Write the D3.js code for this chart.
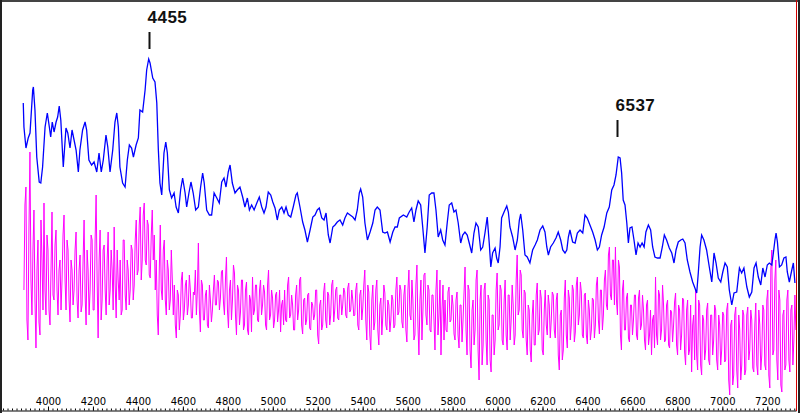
<!DOCTYPE html>
<html><head><meta charset="utf-8">
<script src="https://cdn.jsdelivr.net/npm/d3@7"></script>
<style>html,body{margin:0;padding:0;background:#fff;overflow:hidden}</style>
</head><body>
<svg id="chart" width="800" height="413"></svg>
<script>
// Smoothed spectrum (blue): wavelength (Å) and relative flux
const blueWave = [3890,3893,3902,3912,3920,3932,3935,3942,3950,3961,
3968,3976,3987,3997,4006,4012,4019,4027,4036,4043,
4050,4057,4068,4080,4088,4098,4107,4116,4125,4135,
4142,4154,4165,4172,4182,4194,4205,4217,4227,4237,
4246,4258,4266,4276,4288,4298,4306,4313,4320,4332,
4343,4353,4362,4372,4380,4392,4402,4409,4421,4432,
4439,4448,4454,4466,4476,4484,4491,4498,4506,4516,
4524,4531,4540,4550,4561,4570,4580,4590,4599,4610,
4617,4627,4636,4646,4657,4669,4679,4688,4695,4706,
4718,4728,4739,4751,4762,4773,4783,4792,4802,4810,
4820,4832,4842,4854,4866,4876,4887,4896,4906,4917,
4929,4940,4951,4961,4970,4980,4991,5000,5010,5020,
5029,5040,5050,5059,5069,5080,5091,5103,5109,5121,
5133,5143,5154,5166,5178,5188,5198,5207,5218,5228,
5237,5247,5255,5267,5277,5287,5299,5311,5321,5332,
5344,5356,5366,5376,5385,5391,5400,5410,5421,5433,
5445,5455,5465,5477,5489,5499,5510,5522,5534,5544,
5554,5563,5581,5596,5607,5618,5628,5637,5647,5658,
5667,5677,5687,5696,5707,5717,5726,5736,5747,5756,
5766,5776,5785,5796,5806,5815,5825,5836,5845,5855,
5865,5874,5885,5895,5904,5914,5925,5934,5944,5954,
5963,5970,5978,5989,5996,6003,6011,6018,6029,6041,
6048,6055,6067,6078,6088,6097,6103,6112,6122,6132,
6144,6156,6167,6177,6189,6201,6211,6219,6226,6236,
6248,6260,6270,6281,6290,6300,6308,6315,6322,6334,
6345,6355,6367,6379,6389,6399,6411,6423,6434,6444,
6453,6463,6474,6486,6497,6508,6518,6527,6537,6545,
6552,6559,6567,6575,6582,6589,6598,6607,6616,6625,
6634,6643,6652,6660,6671,6681,6690,6700,6711,6723,
6733,6742,6752,6764,6775,6785,6794,6804,6815,6824,
6834,6844,6856,6868,6878,6886,6893,6901,6908,6918,
6930,6942,6953,6963,6972,6982,6993,7002,7012,7022,
7031,7042,7052,7064,7076,7086,7096,7109,7120,7131,
7141,7150,7160,7171,7180,7190,7200,7209,7220,7227,
7234,7239,7245,7254,7264,7274,7283,7289,7298,7309,
7316,7323];
const blueFlux = [307,283,262,272,277,320,323,300,253,228,
227,243,283,297,283,273,288,278,288,293,
304,290,243,282,277,262,280,270,260,238,
260,280,288,280,250,245,248,238,257,238,
250,275,263,238,260,288,297,283,243,227,
223,250,265,262,253,265,272,300,298,320,
340,351,347,332,328,307,260,227,215,257,
268,257,220,212,217,203,197,220,232,217,
203,217,228,217,200,203,223,237,227,200,
195,195,217,212,207,228,232,223,238,245,
227,217,220,223,213,203,212,200,205,200,
207,213,203,197,203,218,215,208,202,190,
200,203,197,203,195,193,203,215,217,203,
188,180,168,180,193,195,200,202,192,190,
197,175,167,183,185,188,190,185,192,197,
195,193,190,200,217,221,213,187,170,178,
187,200,203,200,178,177,178,168,178,183,
183,192,195,193,198,202,188,200,209,205,
183,157,183,215,217,217,200,173,180,170,
165,187,205,207,198,200,187,167,175,178,
175,167,157,177,187,183,160,163,177,193,
167,143,157,162,152,147,163,192,198,204,
198,183,173,160,170,190,196,180,155,153,
147,160,165,170,180,184,178,163,155,163,
167,172,178,170,160,157,160,173,180,168,
167,177,180,177,195,192,185,178,170,160,
163,175,183,197,203,220,225,235,253,252,
237,210,205,187,167,182,183,170,155,167,
163,167,163,178,185,180,163,153,152,152,
163,175,170,162,157,147,160,168,170,171,
167,150,138,128,122,117,137,163,175,170,
160,143,128,157,147,132,128,138,147,143,
120,105,117,118,142,137,142,123,113,118,
142,147,133,125,142,133,145,147,145,157,
170,177,168,143,145,152,153,138,128,140,
147,127];

// Raw spectrum (magenta): regular wavelength grid
const magentaStart = 3893;
const magentaStep = 4.46;
const magentaFlux = [
120,205,223,90,70,180,258,130,95,160, 200,110,62,140,170,88,75,190,150,100,
207,120,95,175,160,100,85,140,198,115, 110,165,180,120,95,140,150,100,130,175,
195,130,100,170,160,110,88,150,140,105, 120,160,178,110,92,140,155,98,105,150,
190,115,85,160,140,95,120,175,170,100, 100,170,215,130,72,150,180,90,110,160,
165,120,95,150,178,105,120,160,140,100, 183,125,92,160,130,110,150,95,100,170,
170,115,100,150,140,105,120,165,160,110, 125,170,190,135,140,185,203,130,150,195,
207,150,145,190,185,135,132,175,200,150, 175,120,150,95,75,140,185,120,110,160,
170,110,95,150,140,100,110,160,130,95, 125,85,72,120,115,80,95,130,138,90,
100,125,130,95,105,135,120,92,92,118, 115,140,95,120,167,100,78,130,125,90,
90,115,120,85,82,125,110,88,100,120, 135,105,105,130,128,100,112,138,140,108,
95,130,153,100,82,120,130,90,110,145, 137,95,75,125,120,85,98,130,130,80,
85,120,128,80,75,115,110,78,133,95, 100,125,125,90,88,120,130,95,105,125,
118,85,80,125,140,90,95,120,112,82, 90,115,118,88,100,120,78,105,110,85,
120,90,88,125,133,92,95,115,105,80, 80,115,125,90,100,130,133,85,76,110,
112,85,90,115,117,82,80,108,105,90, 95,120,120,75,66,105,110,80,85,118,
127,90,82,118,115,85,95,125,130,88, 100,120,123,92,90,115,115,95,105,122,
118,95,92,122,127,98,100,120,110,94, 95,120,127,85,80,115,120,90,102,125,
140,90,70,125,118,75,60,110,125,80, 88,120,130,80,65,105,112,75,95,125,
117,85,80,110,105,78,90,115,110,82, 85,120,133,95,98,125,120,88,82,115,
125,80,68,120,140,95,90,130,110,70, 75,125,145,85,55,110,130,70,100,135,
137,95,85,125,120,80,78,115,115,90, 60,120,140,75,95,130,55,100,125,70,
110,80,78,118,123,88,90,115,105,76, 70,110,118,75,62,105,105,68,90,118,
143,80,55,125,120,60,42,100,110,65, 80,130,140,60,30,110,125,45,65,120,
127,70,45,115,110,50,38,95,95,55, 70,120,137,80,85,125,120,70,65,110,
130,75,60,115,115,70,90,125,105,65, 75,130,155,95,100,140,135,80,72,120,
117,70,55,105,100,60,48,95,110,65, 65,115,127,75,80,120,112,60,55,100,
120,85,75,115,105,72,90,118,115,80, 72,110,117,55,40,95,100,50,60,112,
130,75,62,120,112,70,85,125,120,68, 78,125,133,85,95,128,118,75,72,115,
117,75,66,110,100,70,80,112,110,72, 85,125,133,90,76,120,120,80,95,130,
140,105,100,155,163,115,110,150,150,105, 163,110,95,150,143,75,60,120,130,80,
80,112,117,72,68,105,105,75,90,115, 115,75,70,112,120,80,85,115,100,70,
60,105,110,65,75,100,55,90,95,62, 133,75,65,120,115,70,80,125,105,68,
70,105,110,65,62,100,98,68,85,108, 117,65,55,105,100,60,75,112,110,58,
45,100,110,55,60,105,38,85,95,50, 120,55,40,110,105,45,35,95,90,50,
60,100,107,50,45,95,95,55,70,105, 100,50,40,95,85,45,60,98,95,48,
50,100,107,30,15,85,90,25,35,95, 103,40,22,95,80,30,45,100,95,35,
40,95,103,50,60,100,90,42,38,85, 107,45,35,100,85,40,55,105,100,45,
40,110,120,35,22,140,160,55,60,130, 150,50,30,120,110,25,18,95,100,40,
45,110,120,50,38,100,105,45,70,115, 80];

const tickValues = [4000,4200,4400,4600,4800,5000,5200,5400,5600,5800,6000,6200,6400,6600,6800,7000,7200];
const peakLabels = ["4455", "6537"];
const peakWave = [4455, 6537];
const peakMarkFlux = [361, 273];

const W = 800, H = 413;
const svg = d3.select("#chart");
svg.append("rect").attr("width", W).attr("height", H).attr("fill", "#fff");

const x = d3.scaleLinear().domain([3786.5, 7327.7]).range([0, 796]);
const y = d3.scaleLinear().domain([0, 410]).range([410, 0]);

const magData = magentaFlux.map((f, i) => ({w: magentaStart + i * magentaStep, f}));
const blueData = blueWave.map((w, i) => ({w, f: blueFlux[i]}));
const line = d3.line().x(d => x(d.w)).y(d => y(d.f));

svg.append("path").datum(magData).attr("d", line)
  .attr("fill", "none").attr("stroke", "#ff00ff").attr("stroke-width", 1);
svg.append("path").datum(blueData).attr("d", line)
  .attr("fill", "none").attr("stroke", "#0000ff").attr("stroke-width", 1.3);

// minor ticks
const minor = d3.range(3800, 7330, 20);
svg.append("g").attr("transform", "translate(0,410.5)")
  .call(d3.axisBottom(x).tickValues(minor).tickSize(-2).tickSizeOuter(0).tickFormat(""))
  .call(g => g.select(".domain").attr("stroke", "#000"))
  .call(g => g.selectAll(".tick line").attr("stroke", "#000"));
// major ticks + labels
svg.append("g").attr("transform", "translate(0,410.5)")
  .call(d3.axisBottom(x).tickValues(tickValues).tickSize(-4).tickSizeOuter(0).tickFormat(d3.format("d")))
  .call(g => g.select(".domain").remove())
  .call(g => g.selectAll(".tick line").attr("stroke", "#000"))
  .call(g => g.selectAll(".tick text").attr("y", -6).attr("dy", 0)
     .attr("font-family", "DejaVu Sans").attr("font-size", 10).attr("fill", "#000"));

// frame
svg.append("line").attr("x1", 0).attr("x2", 800).attr("y1", 1).attr("y2", 1).attr("stroke", "#444").attr("stroke-width", 2);
svg.append("line").attr("x1", 1).attr("x2", 1).attr("y1", 0).attr("y2", 413).attr("stroke", "#222").attr("stroke-width", 2);
svg.append("line").attr("x1", 796.5).attr("x2", 796.5).attr("y1", 0).attr("y2", 411).attr("stroke", "#d00000").attr("stroke-width", 1);
svg.append("line").attr("x1", 799).attr("x2", 799).attr("y1", 0).attr("y2", 413).attr("stroke", "#222").attr("stroke-width", 2);

// peak annotations
const ann = svg.append("g");
peakLabels.forEach((lab, i) => {
  const px = Math.round(x(peakWave[i])) - 0.5;
  const yb = y(peakMarkFlux[i]);
  ann.append("line").attr("x1", px).attr("x2", px).attr("y1", yb - 17).attr("y2", yb)
    .attr("stroke", "#111").attr("stroke-width", 2);
  ann.append("text").attr("x", px - 2).attr("y", yb - 26).text(lab)
    .attr("font-family", "Liberation Sans, Arial, sans-serif").attr("font-weight", "bold")
    .attr("font-size", 17).attr("letter-spacing", 0.5).attr("fill", "#111");
});
</script>
</body></html>
